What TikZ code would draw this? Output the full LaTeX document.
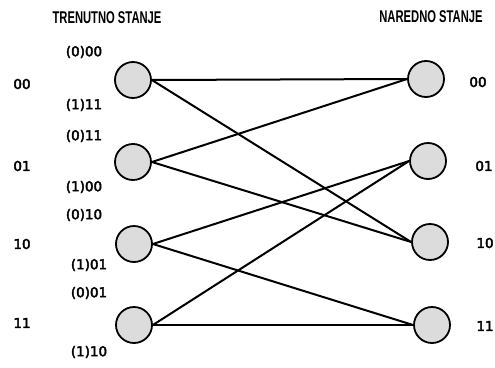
\documentclass[tikz,border=0pt]{standalone}
\usepackage{fontspec}
\setmainfont{DejaVu Sans}
\newfontfamily\labelfont[FakeBold=3]{DejaVu Sans}
\newfontfamily\titlefont[FakeStretch=0.66]{Liberation Sans Bold}
\usetikzlibrary{positioning}
\definecolor{ink}{HTML}{000000}
\definecolor{statefill}{HTML}{DCDCDC}
\tikzset{
  statenode/.style={circle,draw=ink,fill=statefill,line width=1.8pt,
                    minimum size=36pt,inner sep=0pt},
  trellisline/.style={line width=2pt,draw=ink},
  titletext/.style={font=\titlefont\fontsize{17}{19}\selectfont,inner sep=0pt},
  statelabel/.style={font=\labelfont\fontsize{13.5}{15}\selectfont,inner sep=0pt},
  outlabel/.style={font=\labelfont\fontsize{13.5}{15}\selectfont,inner sep=0pt}
}
\begin{document}
\begin{tikzpicture}[x=1pt,y=-1pt]
    \path[use as bounding box] (0,0) rectangle (495,367);
    \node[titletext] (curtitle) at (107,18) {TRENUTNO STANJE};
    \node[titletext] (nxttitle) at (431,17) {NAREDNO STANJE};
    % trenutna stanja
    \node[statenode] (cur00) at (133,80) {};
    \node[statenode] (cur01) at (133,162) {};
    \node[statenode] (cur10) at (134,244) {};
    \node[statenode] (cur11) at (134,325) {};
    % naredna stanja
    \node[statenode] (nxt00) at (426,79) {};
    \node[statenode] (nxt01) at (428,161) {};
    \node[statenode] (nxt10) at (430,242) {};
    \node[statenode] (nxt11) at (432,325) {};
    % oznake stanja
    \node[statelabel] (lab00) at (22,84) {00};
    \node[statelabel] (lab01) at (22,166) {01};
    \node[statelabel] (lab10) at (22,244) {10};
    \node[statelabel] (lab11) at (22,323) {11};
    \node[statelabel] (rlab00) at (478,82) {00};
    \node[statelabel] (rlab01) at (484,166) {01};
    \node[statelabel] (rlab10) at (485,243) {10};
    \node[statelabel] (rlab11) at (485,326) {11};
    % ulaz/izlaz
    \node[outlabel] (o0000) at (84,52) {(0)00};
    \node[outlabel] (o0011) at (84,105) {(1)11};
    \node[outlabel] (o0111) at (84,136) {(0)11};
    \node[outlabel] (o0100) at (84,187) {(1)00};
    \node[outlabel] (o1010) at (84,215) {(0)10};
    \node[outlabel] (o1001) at (89,265) {(1)01};
    \node[outlabel] (o1101) at (89,293) {(0)01};
    \node[outlabel] (o1110) at (89,352) {(1)10};
    % prelazi
    \foreach \from/\to in {00/00,00/10,01/00,01/10,10/01,10/11,11/01,11/11}
      \draw[trellisline] (cur\from.east) -- (nxt\to.west);
  \end{tikzpicture}
\end{document}
